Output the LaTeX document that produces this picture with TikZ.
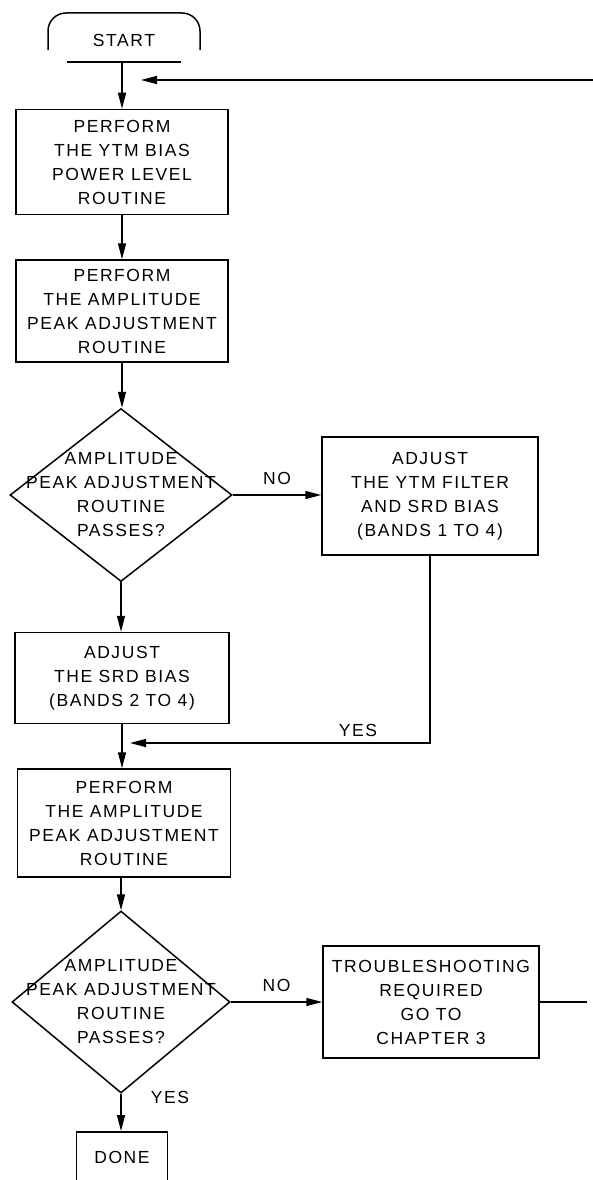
\documentclass[tikz,border=0pt]{standalone}
\usepackage{fontspec}
\setmainfont[LetterSpace=9]{Liberation Sans}
\usepackage{tikz}
\usetikzlibrary{arrows.meta, shapes.geometric}

\begin{document}
\begin{tikzpicture}[x=1pt, y=-1pt, line width=1.5pt,
    every node/.style = {font=\fontsize{17.5}{24}\selectfont, align=center},
    block/.style      = {draw, rectangle, inner sep=0pt},
    decision/.style   = {draw, diamond, inner sep=0pt},
    flow/.style       = {-{Triangle[length=16pt,width=8pt]}}]
  \useasboundingbox (0,0) rectangle (593,1180);

  % start terminal
  \node (start) at (124,40) {START};
  \draw[rounded corners=18pt] (48,50) -- (48,13) -- (200,13) -- (200,50);
  \draw (67,62) -- (181,62);
  \coordinate (startbar) at (122,62);
  \coordinate (loopin)   at (593,80);
  \coordinate (loopend)  at (141,80);

  \node[block, minimum width=212pt, minimum height=105pt] (ytm) at (122,162)
    {PERFORM\\THE YTM BIAS\\POWER LEVEL\\ROUTINE};
  \node[block, minimum width=212pt, minimum height=102pt] (amp) at (122,311)
    {PERFORM\\THE AMPLITUDE\\PEAK ADJUSTMENT\\ROUTINE};
  \node[decision, minimum width=222pt, minimum height=173pt] (chk) at (121,495) {};
  \node (chktext) at (chk) {AMPLITUDE\\PEAK ADJUSTMENT\\ROUTINE\\PASSES?};
  \node[block, minimum width=216pt, minimum height=118pt] (filt) at (430,496)
    {ADJUST\\THE YTM FILTER\\AND SRD BIAS\\(BANDS 1 TO 4)};
  \node[block, minimum width=214pt, minimum height=91pt] (srd) at (122,678)
    {ADJUST\\THE SRD BIAS\\(BANDS 2 TO 4)};
  \coordinate (join) at (130,743);
  \node[block, minimum width=213pt, minimum height=108pt] (amp2) at (124,823)
    {PERFORM\\THE AMPLITUDE\\PEAK ADJUSTMENT\\ROUTINE};
  \node[decision, minimum width=218pt, minimum height=182pt] (chk2) at (121,1002) {};
  \node (chk2text) at (chk2) {AMPLITUDE\\PEAK ADJUSTMENT\\ROUTINE\\PASSES?};
  \node[block, minimum width=216pt, minimum height=112pt] (trbl) at (431,1002)
    {TROUBLESHOOTING\\REQUIRED\\GO TO\\CHAPTER 3};
  \coordinate (exit) at (587,1002);
  \node[block, minimum width=91pt, minimum height=52pt, anchor=north] (done) at (122,1131) {DONE};

  % connectors
  \draw[flow] (startbar) -- (startbar |- ytm.north);
  \draw[flow] (loopin) -- (loopend);
  \draw[flow] (ytm.south) -- (ytm.south |- amp.north);
  \draw[flow] (amp.south) -- (amp.south |- chk.north);
  \draw[flow] (chk.east) -- (chk.east -| filt.west) node[midway, above=6pt] (no1) {NO};
  \draw[flow] (chk.south) -- (chk.south |- srd.north);
  \draw[flow] (filt.south) |- (join) node[pos=0.62, above=2pt] (yes1) {YES};
  \draw[flow] (srd.south) -- (srd.south |- amp2.north);
  \draw[flow] (amp2.south -| chk2.north) -- (chk2.north);
  \draw[flow] (chk2.east) -- (chk2.east -| trbl.west) node[midway, above=6pt] (no2) {NO};
  \draw (trbl.east) -- (exit);
  \draw[flow] (chk2.south) -- (chk2.south |- done.north);
  \node (yes2) at (170,1097) {YES};
\end{tikzpicture}
\end{document}
